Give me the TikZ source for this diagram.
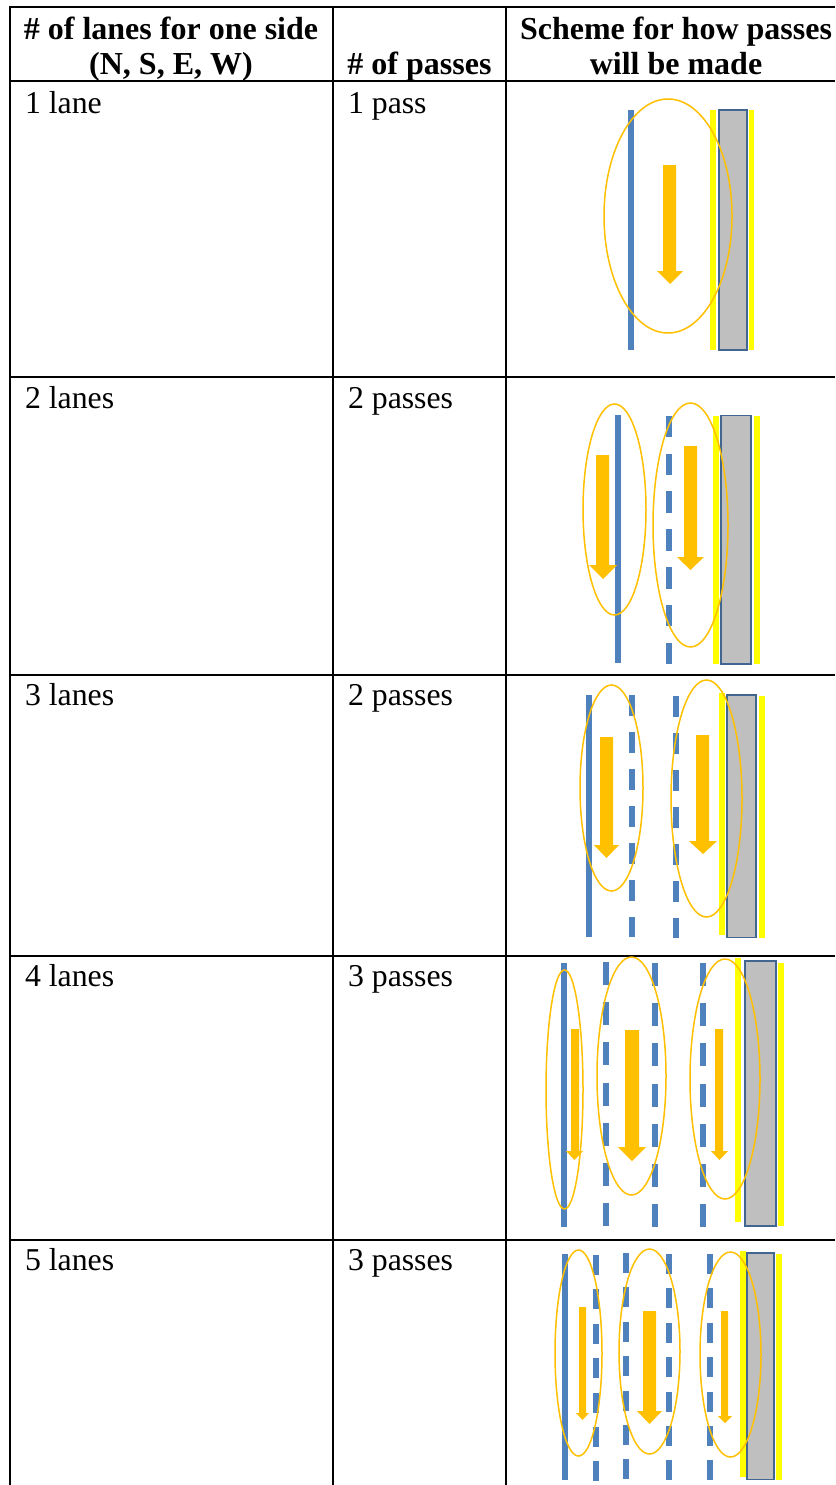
\documentclass[tikz,border=0pt]{standalone}
\usepackage{fontspec}
\setmainfont{Liberation Serif}
\definecolor{laneblue}{HTML}{4F81BD}
\definecolor{passorange}{HTML}{FFC000}
\definecolor{edgeyellow}{HTML}{FFFF00}
\definecolor{curbgrey}{HTML}{BFBFBF}
\definecolor{curbedge}{HTML}{41668F}
\newcommand{\rowlabel}[3]{\node[celltext] (#1) at (#2) {#3};}
\newcommand{\solidlane}[3]{\draw[laneline] (#1,#2) -- (#1,#3);}
\newcommand{\dashlane}[5]{\draw[laneline,dash pattern=on #4pt off #5pt] (#1,#2) -- (#1,#3);}
\newcommand{\yellowline}[3]{\draw[yellowedge] (#1,#2) -- (#1,#3);}
\newcommand{\curbbox}[4]{\draw[curb] (#1,#2) rectangle (#3,#4);}
\newcommand{\passring}[4]{\draw[ring] ({(#1+#2)/2},{(#3+#4)/2}) ellipse ({(#2-#1)/2} and {(#4-#3)/2});}
\newcommand{\passarrow}[7]{\fill[passorange] (#1,#3) -- (#2,#3) -- (#2,#4) -- (#7,#4) -- ({(#6+#7)/2},#5) -- (#6,#4) -- (#1,#4) -- cycle;}
\tikzset{
  celltext/.style={anchor=base west,inner sep=0pt,outer sep=0pt,font=\fontsize{31.8}{35}\selectfont},
  headtext/.style={anchor=base,inner sep=0pt,outer sep=0pt,font=\fontsize{32}{35}\selectfont\bfseries},
  gridline/.style={black,line width=2pt},
  laneline/.style={laneblue,line width=5.4pt},
  yellowedge/.style={edgeyellow,line width=5.2pt},
  curb/.style={fill=curbgrey,draw=curbedge,line width=1.5pt},
  ring/.style={draw=passorange,line width=1.5pt}
}
\begin{document}
\begin{tikzpicture}[x=1pt,y=-1pt]
\useasboundingbox (0,0) rectangle (835,1485);
\fill[white] (0,0) rectangle (835,1485);
% table grid
\draw[gridline] (9,7) -- (835,7);
\draw[gridline] (9,81.5) -- (835,81.5);
\draw[gridline] (9,376.5) -- (835,376.5);
\draw[gridline] (9,675) -- (835,675);
\draw[gridline] (9,955.5) -- (835,955.5);
\draw[gridline] (9,1240) -- (835,1240);
\draw[gridline] (10,6) -- (10,1485);
\draw[gridline] (333,6) -- (333,1485);
\draw[gridline] (506,6) -- (506,1485);
% header
\node[headtext] (h1a) at (171,39.5) {\# of lanes for one side};
\node[headtext] (h1b) at (171,74.5) {(N, S, E, W)};
\node[headtext] (h2) at (419.5,74.5) {\# of passes};
\node[headtext] (h3a) at (676,39.5) {Scheme for how passes};
\node[headtext] (h3b) at (676,74.5) {will be made};
% row labels
\rowlabel{a1}{25,113.5}{1 lane}   \rowlabel{b1}{348,113.5}{1 pass}
\rowlabel{a2}{25,408}{2 lanes}  \rowlabel{b2}{348,408}{2 passes}
\rowlabel{a3}{25,705}{3 lanes}  \rowlabel{b3}{348,705}{2 passes}
\rowlabel{a4}{25,986}{4 lanes}  \rowlabel{b4}{348,986}{3 passes}
\rowlabel{a5}{25,1270}{5 lanes} \rowlabel{b5}{348,1270}{3 passes}
% row 1
\solidlane{631}{110}{350}
\yellowline{713}{110}{350}
\yellowline{751.7}{110}{350}
\curbbox{719}{110}{747}{350}
\passarrow{663}{676}{165}{271}{284}{657}{683}
\passring{604}{732}{99}{333}
% row 2
\solidlane{618}{415}{663}
\dashlane{669}{415.7}{664}{21.6}{16.2}
\yellowline{716}{416}{664}
\yellowline{757}{416}{664}
\curbbox{721}{415.5}{751}{664}
\passarrow{596}{609}{455}{565}{579}{589}{617}
\passarrow{684}{697}{446}{557}{570}{677}{704}
\passring{583}{646}{404}{615}
\passring{653}{728}{403}{647}
% row 3
\solidlane{589}{695}{937}
\dashlane{632}{695}{937}{21}{16}
\dashlane{676}{696}{938}{21}{16}
\yellowline{722}{693}{935}
\yellowline{762}{696}{938}
\curbbox{727}{695}{756}{937.5}
\passarrow{600}{613}{737}{845}{858}{594}{619}
\passarrow{696}{709}{735}{841}{854}{689}{717}
\passring{580}{643}{685}{891}
\passring{671}{742}{680}{917}
% row 4
\solidlane{564}{963}{1227}
\dashlane{606}{962}{1226}{23}{17.2}
\dashlane{655}{963}{1227}{23}{17.2}
\dashlane{703}{963}{1227}{23}{17.2}
\yellowline{738}{958}{1222}
\yellowline{781}{963}{1226}
\curbbox{745}{961}{776}{1226}
\passarrow{571}{579}{1029}{1151}{1160}{566}{583}
\passarrow{625}{639}{1030}{1147}{1161}{618}{646}
\passarrow{715}{723}{1029}{1151}{1160}{711}{728}
\passring{546}{583}{970}{1209}
\passring{597}{666}{957}{1195}
\passring{690}{760}{959}{1199}
% row 5
\solidlane{565}{1254}{1480}
\dashlane{596}{1255}{1481}{20}{14.4}
\dashlane{626}{1253}{1479}{20}{14.4}
\dashlane{669}{1254}{1480}{20}{14.4}
\dashlane{710}{1254}{1480}{20}{14.4}
\yellowline{743}{1251}{1477}
\yellowline{779}{1254}{1480}
\curbbox{747}{1253}{774}{1479.5}
\passarrow{579}{586}{1307}{1413}{1420}{576}{589}
\passarrow{643}{656}{1311}{1411}{1424}{637}{662}
\passarrow{721}{728}{1311}{1416}{1423}{718}{732}
\passring{555}{602}{1250}{1456}
\passring{619}{680}{1249}{1454}
\passring{700}{761}{1252}{1457}
\end{tikzpicture}
\end{document}
